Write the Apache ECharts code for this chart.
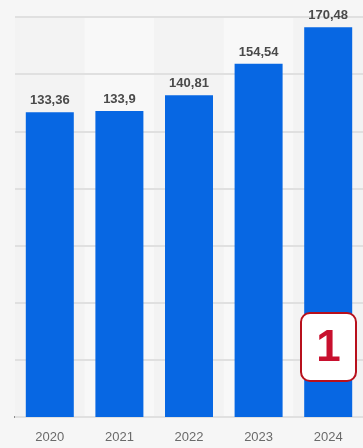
<!DOCTYPE html>
<html>
<head>
<meta charset="utf-8">
<script src="https://cdn.jsdelivr.net/npm/echarts@6/dist/echarts.min.js"></script>
<style>
  html, body { margin: 0; padding: 0; background: #f7f7f7; }
  #chart { width: 363px; height: 448px; }
</style>
</head>
<body>
<div id="chart"></div>
<script>
const years = ["2020", "2021", "2022", "2023", "2024"]
const values = [133.36, 133.9, 140.81, 154.54, 170.48]
const badgeText = "1"

const chart = echarts.init(document.getElementById("chart"), null, { renderer: "canvas" })

chart.setOption({
  backgroundColor: "#f6f6f6",
  animation: false,
  grid: { left: 15, right: -2, top: 17, bottom: 31 },
  xAxis: {
    type: "category",
    data: years,
    z: 0,
    axisLine: { lineStyle: { color: "#6b6b6b", width: 2 } },
    axisTick: { show: false },
    axisLabel: { color: "#6a6a6a", fontSize: 13, fontFamily: "Liberation Sans", margin: 14 },
    // faint alternating column bands behind the bars
    splitArea: { show: true, areaStyle: { color: ["#f3f3f3", "#f8f8f8"] } }
  },
  yAxis: {
    type: "value",
    z: 1,
    min: 0,
    max: 175,
    interval: 25,
    axisLabel: { show: false },
    axisLine: { show: false },
    axisTick: { show: false },
    splitLine: { lineStyle: { color: "#e0e0e0", width: 2 } }
  },
  series: [{
    type: "bar",
    data: values,
    barWidth: 48,
    itemStyle: { color: "#0767e3" },
    label: {
      show: true,
      position: "top",
      distance: 5,
      color: "#4a4a4a",
      fontSize: 13,
      fontWeight: "bold",
      fontFamily: "Liberation Sans",
      formatter: p => String(p.value).replace(".", ",")
    }
  }],
  graphic: [{
    type: "group",
    left: 300,
    top: 312,
    z: 100,
    children: [
      {
        type: "rect",
        z: 100,
        shape: { x: 0, y: 0, width: 55, height: 68, r: 9 },
        style: { fill: "#ffffff", stroke: "#b8101c", lineWidth: 2 }
      },
      {
        type: "text",
        z: 101,
        x: 27.5,
        y: 36,
        style: {
          text: badgeText,
          fill: "#c8102e",
          fontSize: 44,
          fontWeight: "bold",
          fontFamily: "Liberation Sans",
          align: "center",
          verticalAlign: "middle"
        }
      }
    ]
  }]
})
</script>
</body>
</html>
